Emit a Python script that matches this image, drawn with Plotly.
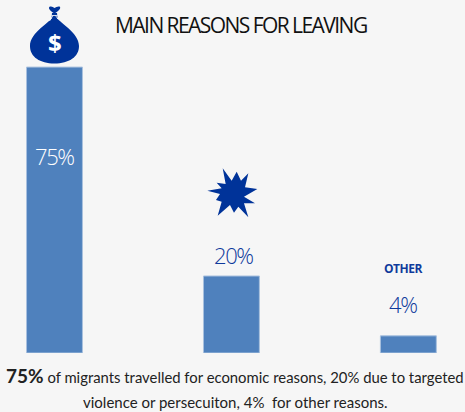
import plotly.graph_objects as go

categories = ["Economic", "Targeted violence or persecution", "Other"]
values = [75, 20.2, 4.5]
labels = ["75%", "20%", "4%"]
W, H = 465, 412
BG = "#f6f6f6"
BLUE = "#003399"
TXT = "#0f3a9c"

def X(p): return p / W
def Y(p): return 1 - p / H
def path(pts):
    return "M" + " L".join(f"{X(a):.4f},{Y(b):.4f}" for a, b in pts) + " Z"

star_z = [(128,25),(155,62),(170,35),(183,62),(205,40),(195,82),(232,87),(192,110),(225,130),(192,130),
          (205,172),(175,140),(162,158),(150,135),(113,167),(125,125),(108,120),(120,102),(82,92),(125,85),
          (110,68),(137,72)]
star = [(180 + a / 3, 160 + b / 3) for a, b in star_z]

def c(*pairs):
    return " ".join(f"{X(a):.4f},{Y(b):.4f}" for a, b in pairs)
bag = ("M" + c((54.5,15)) + " C" + c((50,23),(30,32),(30,46)) + " C" + c((30,57),(40,63.5),(54.5,63.5))
       + " C" + c((69,63.5),(79,57),(79,46)) + " C" + c((79,32),(59,23),(54.5,15)) + " Z")
knot = ("M" + c((54.5,13.5)) + " C" + c((50,11),(47.5,8),(50,6.5)) + " C" + c((52,6),(53,7),(54.5,8))
        + " C" + c((56,7),(58,6),(59.5,6.5)) + " C" + c((61.5,8),(59,11),(54.5,13.5)) + " Z")

fig = go.Figure(go.Bar(x=[0, 1, 2], y=values, width=0.316,
                       marker=dict(color="#4f81bd", line=dict(color="#a9c1df", width=1)),
                       hoverinfo="skip"))

def note(text, px, py, size, color, family="Open Sans", weight=None, anchor="center"):
    f = dict(family=family, size=size, color=color)
    if weight: f["weight"] = weight
    fig.add_annotation(x=X(px), y=Y(py), xref="paper", yref="paper", text=text, showarrow=False,
                       xanchor=anchor, yanchor="middle", font=f, borderpad=0, borderwidth=0)

note('<span style="letter-spacing:-1.55px">MAIN REASONS FOR LEAVING</span>', 115, 25, 21, "#111111", weight=400, anchor="left")
note(f'<span style="letter-spacing:-1.4px">{labels[0]}</span>', 54, 156, 22, "#ffffff", weight=300)
note(f'<span style="letter-spacing:-1.4px">{labels[1]}</span>', 234, 255, 22, TXT, weight=300)
note(f'<span style="letter-spacing:-1.4px">{labels[2]}</span>', 403, 304, 22, TXT, weight=300)
note('<span style="letter-spacing:-0.5px">OTHER</span>', 403, 268, 12, TXT, weight=700)
note("$", 54.5, 43, 24, "#ffffff", weight=700)
note('<b style="font-size:19px">75%</b> of migrants travelled for economic reasons, 20% due to targeted', 234.5, 375, 14.85, "#222222", family="Lato")
note("violence or persecuiton, 4%\u00a0\u00a0for other reasons.", 235, 402, 15, "#222222", family="Lato")

shapes = [dict(type="path", xref="paper", yref="paper", path=p, fillcolor=BLUE, line=dict(width=0), layer="below")
          for p in (bag, knot, path(star))]
shapes += [dict(type="path", xref="paper", yref="paper", path=path([(52,13),(57,13),(57.5,18),(51.5,18)]),
                fillcolor=BLUE, line=dict(width=0), layer="below")]
shapes += [dict(type="line", xref="paper", yref="paper", x0=X(a), y0=Y(b), x1=X(d), y1=Y(e),
                line=dict(color="#ffffff", width=0.8))
           for a, b, d, e in [(53, 15.5, 49.5, 21), (55.5, 15.5, 58, 19), (51.5, 15.5, 57.5, 15.5)]]

fig.update_layout(width=W, height=H, margin=dict(l=0, r=0, t=0, b=0, pad=0), autosize=False,
                  paper_bgcolor=BG, plot_bgcolor=BG, showlegend=False, shapes=shapes,
                  xaxis=dict(range=[-0.308, 2.32], visible=False, fixedrange=True),
                  yaxis=dict(domain=[59 / H, 1], range=[0, 92.6], visible=False, fixedrange=True))
fig.write_html("out.html", config={"displayModeBar": False},
               post_script="document.body.style.margin='0';document.documentElement.style.background='#f6f6f6';")
